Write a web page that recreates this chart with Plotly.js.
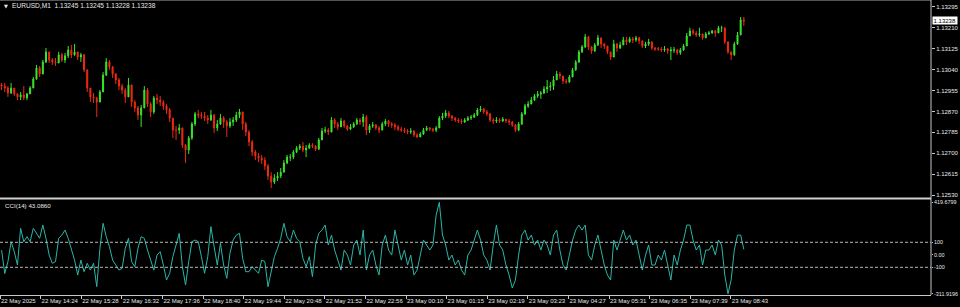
<!DOCTYPE html>
<html><head><meta charset="utf-8">
<script src="https://cdn.plot.ly/plotly-3.0.1.min.js"></script>
<style>html,body{margin:0;padding:0;background:#000;overflow:hidden}#chart{width:960px;height:307px}</style>
</head><body><div id="chart"></div>
<script>
const symbol = "EURUSD,M1";
const lastBar = ["1.13245", "1.13245", "1.13228", "1.13238"];
const currentPrice = 1.13238;
const cciName = "CCI(14)";
const cciLast = "43.0860";

const open = [
1.12978,1.12973,1.12965,1.12945,1.12965,1.12941,1.12929,1.12937,1.12925,1.12941,
1.12965,1.13002,1.13047,1.13022,1.13071,1.13112,1.13079,1.13071,1.13067,1.13100,
1.13079,1.13096,1.13120,1.13100,1.13112,1.13091,1.13100,1.13039,1.12965,1.12929,
1.12925,1.12908,1.12949,1.13018,1.13071,1.13051,1.13022,1.12998,1.12973,1.12957,
1.12929,1.12978,1.12908,1.12884,1.12855,1.12884,1.12957,1.12900,1.12868,1.12925,
1.12916,1.12908,1.12892,1.12876,1.12843,1.12794,1.12794,1.12803,1.12733,1.12713,
1.12762,1.12819,1.12860,1.12855,1.12851,1.12843,1.12835,1.12855,1.12803,1.12819,
1.12843,1.12827,1.12811,1.12827,1.12835,1.12855,1.12868,1.12819,1.12786,1.12746,
1.12705,1.12689,1.12680,1.12672,1.12648,1.12607,1.12583,1.12599,1.12607,1.12623,
1.12660,1.12684,1.12684,1.12705,1.12721,1.12729,1.12713,1.12721,1.12733,1.12729,
1.12717,1.12754,1.12790,1.12794,1.12786,1.12835,1.12819,1.12807,1.12831,1.12811,
1.12798,1.12807,1.12819,1.12835,1.12827,1.12847,1.12794,1.12811,1.12815,1.12803,
1.12794,1.12819,1.12831,1.12819,1.12815,1.12807,1.12798,1.12794,1.12790,1.12786,
1.12790,1.12774,1.12766,1.12778,1.12794,1.12803,1.12798,1.12794,1.12803,1.12843,
1.12851,1.12864,1.12851,1.12843,1.12835,1.12831,1.12827,1.12835,1.12843,1.12847,
1.12855,1.12876,1.12880,1.12868,1.12860,1.12835,1.12831,1.12835,1.12831,1.12839,
1.12831,1.12827,1.12815,1.12794,1.12819,1.12860,1.12892,1.12900,1.12916,1.12933,
1.12941,1.12945,1.12961,1.12969,1.12973,1.12998,1.13022,1.13014,1.12994,1.12990,
1.13010,1.13039,1.13071,1.13112,1.13132,1.13173,1.13132,1.13116,1.13140,1.13169,
1.13144,1.13136,1.13112,1.13091,1.13144,1.13128,1.13140,1.13161,1.13153,1.13165,
1.13161,1.13169,1.13157,1.13136,1.13144,1.13153,1.13128,1.13124,1.13124,1.13120,
1.13124,1.13116,1.13120,1.13120,1.13108,1.13120,1.13136,1.13177,1.13197,1.13189,
1.13181,1.13185,1.13169,1.13185,1.13189,1.13197,1.13189,1.13210,1.13210,1.13153,
1.13112,1.13100,1.13144,1.13181,1.13242];

const high = [
1.12986,1.12986,1.12973,1.12986,1.12965,1.12945,1.12949,1.12973,1.12945,1.12973,
1.13010,1.13059,1.13055,1.13079,1.13128,1.13112,1.13087,1.13087,1.13112,1.13108,
1.13108,1.13136,1.13140,1.13144,1.13112,1.13108,1.13104,1.13039,1.12965,1.12945,
1.12929,1.12957,1.13030,1.13087,1.13079,1.13055,1.13026,1.13006,1.12982,1.12965,
1.13006,1.12978,1.12916,1.12892,1.12896,1.12973,1.12965,1.12908,1.12933,1.12941,
1.12933,1.12916,1.12900,1.12884,1.12843,1.12811,1.12819,1.12803,1.12737,1.12770,
1.12827,1.12868,1.12876,1.12868,1.12868,1.12855,1.12876,1.12860,1.12835,1.12860,
1.12851,1.12835,1.12843,1.12847,1.12868,1.12880,1.12868,1.12827,1.12794,1.12754,
1.12713,1.12701,1.12693,1.12684,1.12656,1.12623,1.12615,1.12623,1.12640,1.12672,
1.12693,1.12697,1.12713,1.12729,1.12737,1.12746,1.12733,1.12741,1.12741,1.12733,
1.12762,1.12803,1.12807,1.12803,1.12847,1.12843,1.12827,1.12843,1.12835,1.12815,
1.12819,1.12827,1.12843,1.12843,1.12860,1.12855,1.12819,1.12827,1.12819,1.12811,
1.12827,1.12839,1.12835,1.12827,1.12823,1.12815,1.12807,1.12803,1.12798,1.12803,
1.12794,1.12782,1.12786,1.12803,1.12811,1.12807,1.12803,1.12811,1.12851,1.12864,
1.12876,1.12872,1.12855,1.12847,1.12843,1.12839,1.12843,1.12851,1.12855,1.12864,
1.12884,1.12892,1.12884,1.12876,1.12864,1.12843,1.12847,1.12843,1.12847,1.12839,
1.12839,1.12831,1.12819,1.12827,1.12868,1.12900,1.12912,1.12929,1.12941,1.12953,
1.12953,1.12973,1.12998,1.12990,1.13014,1.13035,1.13030,1.13014,1.13002,1.13018,
1.13047,1.13079,1.13120,1.13140,1.13185,1.13177,1.13136,1.13148,1.13181,1.13161,
1.13148,1.13136,1.13108,1.13161,1.13148,1.13153,1.13173,1.13173,1.13173,1.13173,
1.13177,1.13173,1.13157,1.13153,1.13165,1.13153,1.13132,1.13132,1.13132,1.13136,
1.13128,1.13132,1.13132,1.13124,1.13128,1.13144,1.13189,1.13210,1.13205,1.13197,
1.13210,1.13185,1.13193,1.13197,1.13201,1.13201,1.13218,1.13218,1.13201,1.13153,
1.13112,1.13153,1.13193,1.13254,1.13254];

const low = [
1.12957,1.12949,1.12929,1.12941,1.12933,1.12916,1.12916,1.12916,1.12916,1.12941,
1.12965,1.12998,1.13010,1.13022,1.13067,1.13067,1.13059,1.13055,1.13067,1.13071,
1.13067,1.13087,1.13087,1.13096,1.13079,1.13071,1.13030,1.12949,1.12908,1.12904,
1.12847,1.12908,1.12949,1.13014,1.13039,1.13006,1.12982,1.12957,1.12941,1.12904,
1.12929,1.12888,1.12868,1.12835,1.12807,1.12884,1.12888,1.12847,1.12860,1.12900,
1.12892,1.12876,1.12860,1.12827,1.12762,1.12754,1.12778,1.12721,1.12660,1.12697,
1.12754,1.12811,1.12843,1.12839,1.12831,1.12819,1.12831,1.12782,1.12790,1.12815,
1.12803,1.12766,1.12803,1.12811,1.12827,1.12843,1.12794,1.12770,1.12729,1.12689,
1.12672,1.12664,1.12656,1.12632,1.12591,1.12558,1.12575,1.12587,1.12599,1.12623,
1.12656,1.12668,1.12676,1.12701,1.12713,1.12705,1.12684,1.12717,1.12721,1.12709,
1.12713,1.12754,1.12782,1.12774,1.12786,1.12803,1.12794,1.12807,1.12803,1.12790,
1.12794,1.12803,1.12815,1.12815,1.12807,1.12774,1.12782,1.12803,1.12794,1.12782,
1.12794,1.12811,1.12807,1.12803,1.12794,1.12790,1.12786,1.12782,1.12778,1.12778,
1.12766,1.12762,1.12766,1.12774,1.12790,1.12790,1.12786,1.12786,1.12803,1.12835,
1.12843,1.12843,1.12831,1.12827,1.12823,1.12819,1.12823,1.12831,1.12835,1.12843,
1.12851,1.12868,1.12860,1.12851,1.12827,1.12819,1.12823,1.12823,1.12827,1.12823,
1.12815,1.12807,1.12786,1.12790,1.12815,1.12855,1.12884,1.12900,1.12912,1.12925,
1.12921,1.12941,1.12945,1.12953,1.12957,1.13002,1.13002,1.12982,1.12982,1.12986,
1.13010,1.13035,1.13067,1.13108,1.13128,1.13120,1.13104,1.13112,1.13136,1.13128,
1.13124,1.13104,1.13079,1.13091,1.13112,1.13124,1.13140,1.13140,1.13148,1.13148,
1.13153,1.13144,1.13128,1.13128,1.13136,1.13120,1.13116,1.13116,1.13112,1.13112,
1.13104,1.13079,1.13108,1.13100,1.13100,1.13116,1.13136,1.13177,1.13181,1.13173,
1.13173,1.13161,1.13169,1.13181,1.13185,1.13173,1.13189,1.13193,1.13144,1.13104,
1.13079,1.13096,1.13140,1.13181,1.13218];

const close = [
1.12973,1.12965,1.12945,1.12965,1.12941,1.12929,1.12937,1.12925,1.12941,1.12965,
1.13002,1.13047,1.13022,1.13071,1.13112,1.13079,1.13071,1.13067,1.13100,1.13079,
1.13096,1.13120,1.13100,1.13112,1.13091,1.13100,1.13039,1.12965,1.12929,1.12925,
1.12908,1.12949,1.13018,1.13071,1.13051,1.13022,1.12998,1.12973,1.12957,1.12929,
1.12978,1.12908,1.12884,1.12855,1.12884,1.12957,1.12900,1.12868,1.12925,1.12916,
1.12908,1.12892,1.12876,1.12843,1.12794,1.12794,1.12803,1.12733,1.12713,1.12762,
1.12819,1.12860,1.12855,1.12851,1.12843,1.12835,1.12855,1.12803,1.12819,1.12843,
1.12827,1.12811,1.12827,1.12835,1.12855,1.12868,1.12819,1.12786,1.12746,1.12705,
1.12689,1.12680,1.12672,1.12648,1.12607,1.12583,1.12599,1.12607,1.12623,1.12660,
1.12684,1.12684,1.12705,1.12721,1.12729,1.12713,1.12721,1.12733,1.12729,1.12717,
1.12754,1.12790,1.12794,1.12786,1.12835,1.12819,1.12807,1.12831,1.12811,1.12798,
1.12807,1.12819,1.12835,1.12827,1.12847,1.12794,1.12811,1.12815,1.12803,1.12794,
1.12819,1.12831,1.12819,1.12815,1.12807,1.12798,1.12794,1.12790,1.12786,1.12790,
1.12774,1.12766,1.12778,1.12794,1.12803,1.12798,1.12794,1.12803,1.12843,1.12851,
1.12864,1.12851,1.12843,1.12835,1.12831,1.12827,1.12835,1.12843,1.12847,1.12855,
1.12876,1.12880,1.12868,1.12860,1.12835,1.12831,1.12835,1.12831,1.12839,1.12831,
1.12827,1.12815,1.12794,1.12819,1.12860,1.12892,1.12900,1.12916,1.12933,1.12941,
1.12945,1.12961,1.12969,1.12973,1.12998,1.13022,1.13014,1.12994,1.12990,1.13010,
1.13039,1.13071,1.13112,1.13132,1.13173,1.13132,1.13116,1.13140,1.13169,1.13144,
1.13136,1.13112,1.13091,1.13144,1.13128,1.13140,1.13161,1.13153,1.13165,1.13161,
1.13169,1.13157,1.13136,1.13144,1.13153,1.13128,1.13124,1.13124,1.13120,1.13124,
1.13116,1.13120,1.13120,1.13108,1.13120,1.13136,1.13177,1.13197,1.13189,1.13181,
1.13185,1.13169,1.13185,1.13189,1.13197,1.13189,1.13210,1.13210,1.13153,1.13112,
1.13100,1.13144,1.13181,1.13242,1.13238];

const cci = [
38,-150,-55,105,25,-82,212,105,145,105,
212,172,132,238,132,-2,-68,-55,132,158,
198,132,52,-42,-162,-42,-135,-68,-122,-68,
-255,52,252,145,65,-42,-82,-122,-108,52,
132,-55,-95,52,145,132,38,-42,-122,-2,
25,-82,-202,-148,-15,78,172,-95,-242,-55,
105,118,105,-15,-148,-15,225,65,-82,92,
-82,-188,12,118,158,172,-28,-135,-135,-95,
-122,-148,-42,-55,-255,-122,-15,52,132,252,
145,105,198,132,105,-28,-95,-15,-175,78,
172,
198,238,78,158,38,-42,-122,38,-2,-82,
78,118,-2,198,-122,-2,38,-82,-162,78,
158,38,-2,198,78,-42,38,-82,-2,-162,
-122,-2,118,78,38,78,318,419.68,158,78,
-42,-2,-82,-42,-122,-162,-2,38,118,198,
118,-2,-42,-122,78,238,78,38,-82,-162,
-266,-202,-2,158,198,118,158,78,118,38,
118,78,-2,158,198,38,-82,-122,-2,118,
198,238,198,238,-2,-42,78,158,38,-82,
-162,-202,118,38,118,198,118,158,78,118,
-2,-122,-2,78,-82,-82,-2,-42,38,-82,
-202,-2,-82,38,118,238,238,118,38,78,
-82,38,38,78,-2,118,78,-162,-311.92,-202,
38,158,158,43.086];

const timeLabels = ["22 May 2025","22 May 14:24","22 May 15:28","22 May 16:32","22 May 17:36",
"22 May 18:40","22 May 19:44","22 May 20:48","22 May 21:52","22 May 22:56","23 May 00:10",
"23 May 01:15","23 May 02:19","23 May 03:23","23 May 04:27","23 May 05:31","23 May 06:35",
"23 May 07:39","23 May 08:43"];
const priceTicks = [1.12530,1.12615,1.12700,1.12785,1.12870,1.12955,1.13040,1.13125,1.13210,1.13295];
const cciTicks = [419.6799, 100, 0, -100, -311.9196];
const cciTickText = ["419.6799", "100", "0.00", "-100", "-311.9196"];
const cciLevels = [100, -100];

// layout constants (pixels of the 960x307 view)
const W = 960, H = 307, plotRight = 931, plotBottom = 295;
const barsPerCandle = 5, barsPerLabel = 64;
const idx = close.map((_, i) => i);
const tickPos = timeLabels.map((_, k) => (k * barsPerLabel - barsPerCandle / 2) / barsPerCandle);
const pxPerIdx = 3.172;
const xMax = (plotRight - 1.586) / pxPerIdx;
const pyFrac = px => 1 - px / plotBottom;

const txt = '#e8e8e8';
const fontFam = 'Liberation Sans, Arial, sans-serif';

const traces = [
  {
    type: 'candlestick', x: idx, open: open, high: high, low: low, close: close,
    xaxis: 'x', yaxis: 'y', whiskerwidth: 0,
    increasing: {line: {color: '#3ae62a', width: 1}, fillcolor: '#3ae62a'},
    decreasing: {line: {color: '#f02a10', width: 1}, fillcolor: '#f02a10'},
    hoverinfo: 'skip'
  },
  {
    type: 'scatter', mode: 'lines', x: idx, y: cci, xaxis: 'x', yaxis: 'y2',
    line: {color: '#2bb5a8', width: 1}, hoverinfo: 'skip'
  }
];

const shapes = [
  {type: 'line', xref: 'paper', yref: 'paper', x0: 0, x1: 1, y0: pyFrac(198.6), y1: pyFrac(198.6), line: {color: '#d0d0d0', width: 2}},
  {type: 'line', xref: 'paper', yref: 'paper', x0: 0, x1: 1, y0: 1, y1: 1, line: {color: '#a8a8a8', width: 1}},
  {type: 'line', xref: 'paper', yref: 'paper', x0: 1, x1: 1, y0: 0, y1: 1, line: {color: '#c8c8c8', width: 1}}
].concat(cciLevels.map(v => ({
  type: 'line', xref: 'paper', yref: 'y2', x0: 0, x1: 1, y0: v, y1: v,
  line: {color: '#b8b8b8', width: 1, dash: '3px,2px'}
})));

const annotations = [
  {xref: 'paper', yref: 'paper', x: 2 / plotRight, y: pyFrac(5.5), xanchor: 'left', yanchor: 'middle',
   text: '\u25BC', showarrow: false, font: {size: 5, color: txt, family: 'DejaVu Sans'}},
  {xref: 'paper', yref: 'paper', x: 9.5 / plotRight, y: pyFrac(5.5), xanchor: 'left', yanchor: 'middle',
   text: symbol + '\u00a0\u00a0' + lastBar.join('\u00a0'), showarrow: false, font: {size: 6.6, color: txt, family: fontFam}},
  {xref: 'paper', yref: 'paper', x: 2.5 / plotRight, y: pyFrac(205), xanchor: 'left', yanchor: 'middle',
   text: cciName + '\u00a0' + cciLast, showarrow: false, font: {size: 6.2, color: txt, family: fontFam}},
  {xref: 'paper', yref: 'y', x: 1.001, y: currentPrice, xanchor: 'left', yanchor: 'middle',
   text: currentPrice.toFixed(5), showarrow: false, bgcolor: '#ffffff', borderpad: 0.6,
   font: {size: 6, color: '#000000', family: fontFam}}
];

const layout = {
  width: W, height: H,
  margin: {l: 0, r: W - plotRight, t: 0, b: H - plotBottom},
  paper_bgcolor: '#000000', plot_bgcolor: '#000000',
  showlegend: false, hovermode: false, boxgap: 0.55,
  font: {family: fontFam, size: 6, color: txt},
  xaxis: {
    domain: [0, 1], anchor: 'y2', range: [-0.5, xMax],
    rangeslider: {visible: false}, showgrid: false, zeroline: false,
    showline: true, linecolor: '#c8c8c8', linewidth: 1,
    ticks: 'outside', ticklen: 3, tickcolor: '#c8c8c8', tickwidth: 1,
    tickmode: 'array', tickvals: tickPos, ticktext: timeLabels,
    ticklabelposition: 'outside right', tickangle: 0, automargin: false,
    tickfont: {size: 6, color: txt, family: fontFam}
  },
  yaxis: {
    domain: [pyFrac(198), 1], anchor: 'x', side: 'right',
    range: [1.12518, 1.13323], showgrid: false, zeroline: false,
    showline: false, ticks: 'outside', ticklen: 3, tickcolor: '#c8c8c8',
    tickmode: 'array', tickvals: priceTicks, ticktext: priceTicks.map(v => v.toFixed(5)),
    tickfont: {size: 6, color: txt, family: fontFam}
  },
  yaxis2: {
    domain: [0, pyFrac(200)], anchor: 'x', side: 'right',
    range: [-321.6, 438.4], showgrid: false, zeroline: false,
    showline: false, ticks: 'outside', ticklen: 1, tickcolor: '#c8c8c8',
    tickmode: 'array', tickvals: cciTicks, ticktext: cciTickText,
    tickfont: {size: 5.4, color: txt, family: fontFam}
  },
  shapes: shapes,
  annotations: annotations
};

Plotly.newPlot('chart', traces, layout, {staticPlot: true, displayModeBar: false});
</script>
</body></html>
